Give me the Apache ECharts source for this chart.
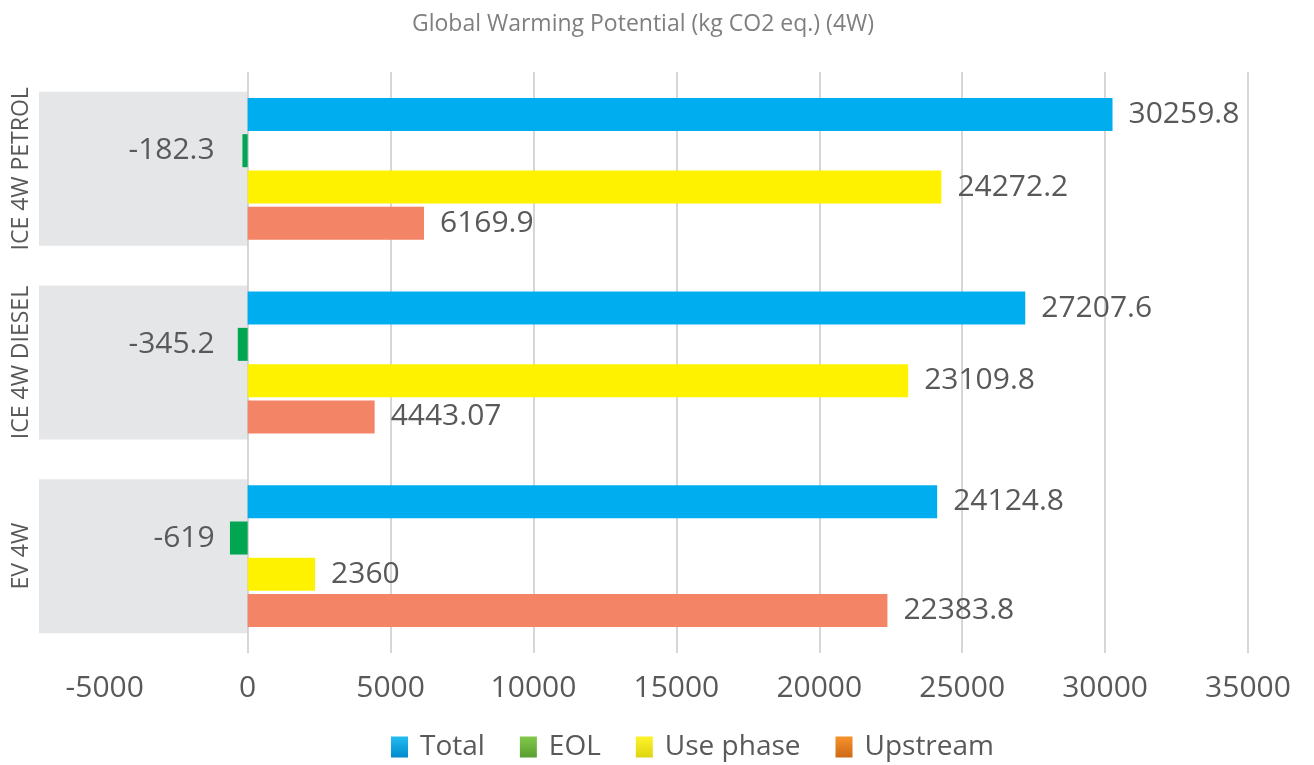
<!DOCTYPE html>
<html>
<head>
<meta charset="utf-8">
<script src="https://cdn.jsdelivr.net/npm/echarts@6/dist/echarts.min.js"></script>
<style>
  html, body { margin: 0; padding: 0; background: #fff; }
  #main { width: 1314px; height: 765px; }
</style>
</head>
<body>
<div id="main"></div>
<script>
// categories top to bottom
var categories = ['ICE 4W PETROL', 'ICE 4W DIESEL', 'EV 4W'];
var totalData = [30259.8, 27207.6, 24124.8];
var eolData = [-182.3, -345.2, -619];
var usePhaseData = [24272.2, 23109.8, 2360];
var upstreamData = [6169.9, 4443.07, 22383.8];
var tickValues = [0, 5000, 10000, 15000, 20000, 25000, 30000, 35000];
var labelValues = [-5000, 0, 5000, 10000, 15000, 20000, 25000, 30000, 35000];
var axisMin = -7300;
var axisMax = 35000;

var myChart = echarts.init(document.getElementById('main'), null, { renderer: 'canvas' });

var FONT = 'Open Sans';
var TEXT = '#595959';

function grad(c1, c2) {
  return new echarts.graphic.LinearGradient(0, 0, 0, 1, [
    { offset: 0, color: c1 },
    { offset: 1, color: c2 }
  ]);
}

function valueLabel(pos, dist) {
  return {
    show: true,
    position: pos,
    distance: dist,
    color: TEXT,
    fontFamily: FONT,
    fontSize: 30
  };
}

var option = {
  animation: false,
  title: {
    text: 'Global Warming Potential (kg CO2 eq.) (4W)',
    left: 638,
    textAlign: 'center',
    top: 8,
    textStyle: { color: '#7f7f7f', fontFamily: FONT, fontSize: 23, fontWeight: 'normal' }
  },
  legend: {
    left: 386,
    top: 728,
    itemWidth: 17,
    itemHeight: 21,
    itemGap: 35,
    selectedMode: false,
    textStyle: { color: TEXT, fontFamily: FONT, fontSize: 28, padding: [0, 0, 0, 7] },
    data: [
      { name: 'Total', icon: 'rect', itemStyle: { color: grad('#22bdf2', '#0089cc') } },
      { name: 'EOL', icon: 'rect', itemStyle: { color: grad('#82c84a', '#5a9e32') } },
      { name: 'Use phase', icon: 'rect', itemStyle: { color: grad('#fff42a', '#ddd510') } },
      { name: 'Upstream', icon: 'rect', itemStyle: { color: grad('#f8922a', '#cc6a16') } }
    ]
  },
  grid: {
    left: 39,
    right: 66,
    top: 72,
    height: 581
  },
  xAxis: {
    type: 'value',
    min: axisMin,
    max: axisMax,
    axisLine: { show: false },
    axisTick: { show: false, customValues: tickValues },
    splitLine: { show: true, lineStyle: { color: '#c9c9c9', width: 1.5 } },
    axisLabel: {
      customValues: labelValues,
      formatter: function (v) { return String(v); },
      color: TEXT,
      fontFamily: FONT,
      fontSize: 30,
      margin: 20
    }
  },
  yAxis: [
    {
      type: 'category',
      inverse: true,
      data: categories,
      axisLine: { show: false },
      axisTick: { show: false },
      axisLabel: {
        interval: 0,
        hideOverlap: false,
        rotate: 90,
        margin: 6,
        color: TEXT,
        fontFamily: FONT,
        fontSize: 23
      }
    },
    {
      type: 'category',
      inverse: true,
      data: categories,
      show: false
    }
  ],
  series: [
    {
      name: 'backdrop',
      type: 'bar',
      yAxisIndex: 1,
      barWidth: 154,
      silent: true,
      z: -1,
      itemStyle: { color: '#e5e6e8' },
      data: categories.map(function () { return axisMin; })
    },
    {
      name: 'Total',
      type: 'bar',
      barWidth: 33,
      barGap: '10%',
      itemStyle: { color: '#00adef' },
      label: valueLabel('right', 16),
      data: totalData
    },
    {
      name: 'EOL',
      type: 'bar',
      barWidth: 33,
      barGap: '10%',
      itemStyle: { color: '#00a651' },
      label: valueLabel('insideRight', 33),
      data: eolData
    },
    {
      name: 'Use phase',
      type: 'bar',
      barWidth: 33,
      barGap: '10%',
      itemStyle: { color: '#fff200' },
      label: valueLabel('right', 16),
      data: usePhaseData
    },
    {
      name: 'Upstream',
      type: 'bar',
      barWidth: 33,
      barGap: '10%',
      itemStyle: { color: '#f48466' },
      label: valueLabel('right', 16),
      data: upstreamData
    }
  ]
};

myChart.setOption(option);

window.addEventListener('resize', function () {
  myChart.resize();
});
</script>
</body>
</html>
